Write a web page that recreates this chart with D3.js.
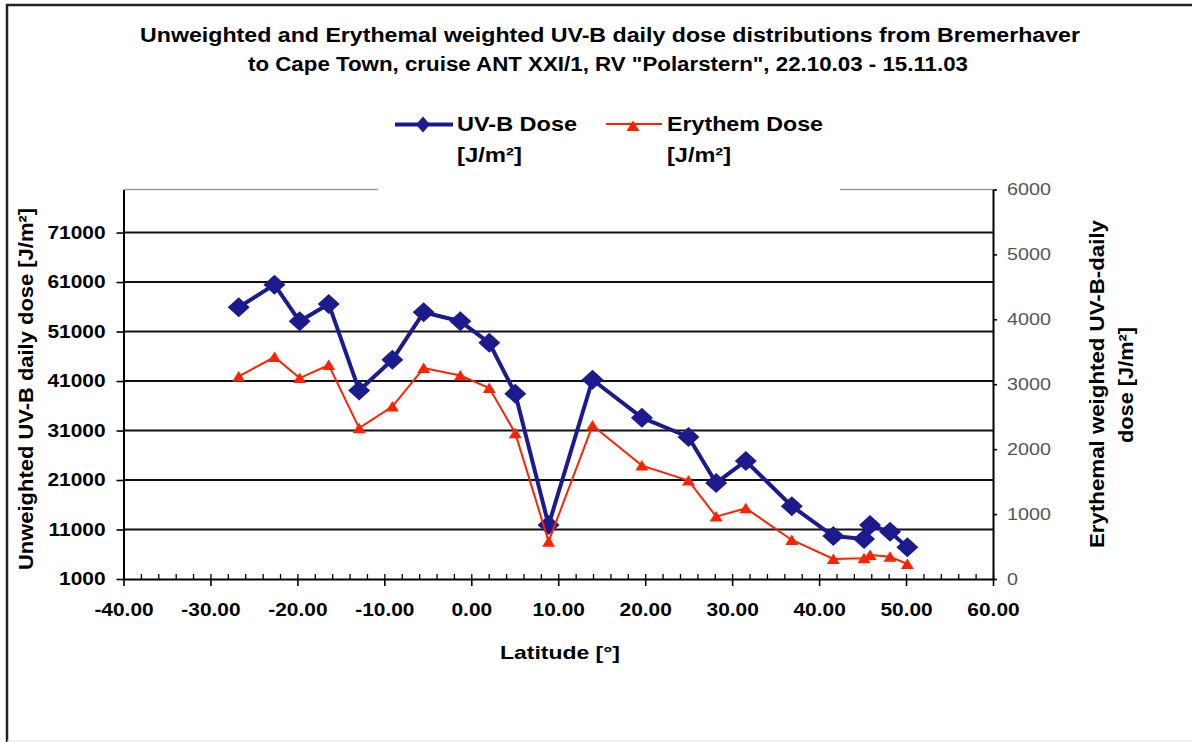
<!DOCTYPE html>
<html>
<head>
<meta charset="utf-8">
<script src="https://cdnjs.cloudflare.com/ajax/libs/d3/7.8.5/d3.min.js"></script>
<style>
  body { margin: 0; background: #fff; }
  svg { display: block; }
  text { font-family: "Liberation Sans", Arial, sans-serif; }
</style>
</head>
<body>
<script>
// latitude of each daily measurement
var latitude = [-26.75, -22.64, -19.74, -16.4, -12.9, -9.08, -5.48, -1.26, 2.07, 5.06, 8.89,
                13.94, 19.62, 24.98, 28.16, 31.57, 36.86, 41.64, 45.17, 45.86, 48.16, 50.15]
// unweighted UV-B daily dose [J/m2]
var uvbDose = [55900, 60470, 53070, 56580, 39100, 45290, 54890, 53070, 48720, 38440, 11890,
               41260, 33600, 29690, 20410, 24850, 15720, 9670, 9060, 11890, 10540, 7390]
// erythemal weighted daily dose [J/m2]
var erythemDose = [3120, 3419, 3095, 3295, 2324, 2657, 3249, 3135, 2941, 2247, 575,
                   2364, 1747, 1516, 961, 1090, 601, 308, 319, 370, 344, 231]

var xTicks = [-40, -30, -20, -10, 0, 10, 20, 30, 40, 50, 60]
var leftTicks = [1000, 11000, 21000, 31000, 41000, 51000, 61000, 71000]
var rightTicks = [0, 1000, 2000, 3000, 4000, 5000, 6000]

var W = 1192, H = 742
var blue = "#1b1b8e", red = "#ff2200"

var svg = d3.select("body").append("svg").attr("width", W).attr("height", H)
svg.append("rect").attr("width", W).attr("height", H).attr("fill", "#fff")

var x = d3.scaleLinear().domain([-40, 60]).range([123.5, 993])
var yL = d3.scaleLinear().domain([1000, 79700]).range([579, 189.5])
var yR = d3.scaleLinear().domain([0, 6000]).range([579, 189.5])

// stretch text horizontally like the original picture
var stretch = function(sel, f){
  sel.each(function(){
    var w = this.getComputedTextLength()
    d3.select(this).attr("textLength", w * f).attr("lengthAdjust", "spacingAndGlyphs")
  })
}

// outer frame
svg.append("path").attr("d", "M7,742V5H1192").attr("fill", "none").attr("stroke", "#222").attr("stroke-width", 2.5)
svg.append("line").attr("x1", 7).attr("x2", W).attr("y1", 741).attr("y2", 741).attr("stroke", "#e4e4e4")

// top border of plot area
svg.append("line").attr("x1", x(-40)).attr("x2", x(60)).attr("y1", yL.range()[1]).attr("y2", yL.range()[1])
  .attr("stroke", "#9a9a9a").attr("stroke-width", 1.5)

// grid lines
svg.append("g").selectAll("line")
  .data(leftTicks.slice(1))
  .enter()
  .append("line")
  .attr("x1", x(-40)).attr("x2", x(60))
  .attr("y1", function(d){ return yL(d) }).attr("y2", function(d){ return yL(d) })
  .attr("stroke", "#111").attr("stroke-width", 1.9)

// left axis
var gl = svg.append("g").attr("transform", "translate(" + x(-40) + ",0)")
  .call(d3.axisLeft(yL).tickValues(leftTicks).tickSize(7).tickSizeOuter(0).tickPadding(11).tickFormat(function(d){ return d }))
gl.select(".domain").attr("stroke", "#000").attr("stroke-width", 2)
gl.selectAll(".tick line").attr("stroke", "#000").attr("stroke-width", 1.6)
gl.selectAll("text").attr("font-size", 18).attr("font-weight", "bold").attr("fill", "#000")
  .attr("font-family", "'Liberation Sans', Arial, sans-serif")
stretch(gl.selectAll("text"), 1.16)

// right axis
var gr = svg.append("g").attr("transform", "translate(" + x(60) + ",0)")
  .call(d3.axisRight(yR).tickValues(rightTicks).tickSize(4).tickSizeOuter(0).tickPadding(10).tickFormat(function(d){ return d }))
gr.select(".domain").attr("stroke", "#000").attr("stroke-width", 2)
gr.selectAll(".tick line").attr("stroke", "#000").attr("stroke-width", 1.6)
gr.selectAll("text").attr("font-size", 17).attr("fill", "#555")
  .attr("font-family", "'Liberation Sans', Arial, sans-serif")
stretch(gr.selectAll("text"), 1.16)

// bottom axis: minor ticks inside, major ticks crossing
var gm = svg.append("g").attr("transform", "translate(0," + yL(1000) + ")")
  .call(d3.axisBottom(x).tickValues(d3.range(-40, 61, 2)).tickSize(-5).tickSizeOuter(0).tickFormat(""))
gm.select(".domain").attr("stroke", "#000").attr("stroke-width", 2)
gm.selectAll(".tick line").attr("stroke", "#000").attr("stroke-width", 1.3)

var gb = svg.append("g").attr("transform", "translate(0," + yL(1000) + ")")
  .call(d3.axisBottom(x).tickValues(xTicks).tickSize(7).tickSizeOuter(0).tickPadding(17).tickFormat(function(d){ return d.toFixed(2) }))
gb.select(".domain").remove()
gb.selectAll(".tick line").attr("stroke", "#000").attr("stroke-width", 1.6)
gb.selectAll("text").attr("font-size", 19).attr("font-weight", "bold").attr("fill", "#000")
  .attr("font-family", "'Liberation Sans', Arial, sans-serif")
stretch(gb.selectAll("text"), 1.1)

// series lines
var lineL = d3.line().x(function(d, i){ return x(latitude[i]) }).y(function(d){ return yL(d) })
var lineR = d3.line().x(function(d, i){ return x(latitude[i]) }).y(function(d){ return yR(d) })

var diamond = "M0,-10L11,0L0,10L-11,0Z"
var triangle = "M0,-5.5L6.5,5L-6.5,5Z"

svg.append("path").datum(uvbDose).attr("d", lineL)
  .attr("fill", "none").attr("stroke", blue).attr("stroke-width", 4).attr("stroke-linejoin", "round")
svg.append("g").selectAll("path")
  .data(uvbDose)
  .enter()
  .append("path")
  .attr("d", diamond)
  .attr("transform", function(d, i){ return "translate(" + x(latitude[i]) + "," + yL(d) + ")" })
  .attr("fill", blue)

svg.append("path").datum(erythemDose).attr("d", lineR)
  .attr("fill", "none").attr("stroke", red).attr("stroke-width", 2)
svg.append("g").selectAll("path")
  .data(erythemDose)
  .enter()
  .append("path")
  .attr("d", triangle)
  .attr("transform", function(d, i){ return "translate(" + x(latitude[i]) + "," + yR(d) + ")" })
  .attr("fill", red)

// legend
svg.append("rect").attr("x", 378).attr("y", 92).attr("width", 462).attr("height", 101).attr("fill", "#fff")
var lg = svg.append("g")
lg.append("line").attr("x1", 395).attr("x2", 453).attr("y1", 124.5).attr("y2", 124.5).attr("stroke", blue).attr("stroke-width", 4)
lg.append("path").attr("d", "M0,-8L7,0L0,8L-7,0Z").attr("transform", "translate(423,124.5)").attr("fill", blue)
lg.append("line").attr("x1", 606).attr("x2", 662).attr("y1", 124).attr("y2", 124).attr("stroke", red).attr("stroke-width", 2)
lg.append("path").attr("d", triangle).attr("transform", "translate(633,126)").attr("fill", red)

var legendText = [
  {t: "UV-B Dose", x: 457, y: 131, w: 120},
  {t: "[J/m\u00b2]", x: 457, y: 162, w: 65},
  {t: "Erythem Dose", x: 667, y: 131, w: 156},
  {t: "[J/m\u00b2]", x: 667, y: 162, w: 64}
]
lg.selectAll("text")
  .data(legendText)
  .enter()
  .append("text")
  .attr("x", function(d){ return d.x }).attr("y", function(d){ return d.y })
  .attr("font-size", 21).attr("font-weight", "bold").attr("fill", "#000")
  .attr("textLength", function(d){ return d.w }).attr("lengthAdjust", "spacingAndGlyphs")
  .text(function(d){ return d.t })

// titles
svg.append("text").attr("x", 610).attr("y", 42).attr("text-anchor", "middle")
  .attr("font-size", 19.5).attr("font-weight", "bold")
  .attr("textLength", 940).attr("lengthAdjust", "spacingAndGlyphs")
  .text("Unweighted and Erythemal weighted UV-B daily dose distributions from Bremerhaver")
svg.append("text").attr("x", 608).attr("y", 71).attr("text-anchor", "middle")
  .attr("font-size", 19.5).attr("font-weight", "bold")
  .attr("textLength", 720).attr("lengthAdjust", "spacingAndGlyphs")
  .text("to Cape Town, cruise ANT XXI/1, RV \"Polarstern\", 22.10.03 - 15.11.03")

svg.append("text").attr("x", 560).attr("y", 659).attr("text-anchor", "middle")
  .attr("font-size", 19).attr("font-weight", "bold")
  .attr("textLength", 120).attr("lengthAdjust", "spacingAndGlyphs")
  .text("Latitude [\u00b0]")

svg.append("text").attr("transform", "translate(33,389) scale(1.16,1) rotate(-90)")
  .attr("text-anchor", "middle").attr("font-size", 18).attr("font-weight", "bold")
  .attr("textLength", 362).attr("lengthAdjust", "spacingAndGlyphs")
  .text("Unweighted UV-B daily dose [J/m\u00b2]")

svg.append("text").attr("transform", "translate(1104,384) scale(1.16,1) rotate(-90)")
  .attr("text-anchor", "middle").attr("font-size", 18).attr("font-weight", "bold")
  .attr("textLength", 328).attr("lengthAdjust", "spacingAndGlyphs")
  .text("Erythemal weighted UV-B-daily")
svg.append("text").attr("transform", "translate(1133,385) scale(1.16,1) rotate(-90)")
  .attr("text-anchor", "middle").attr("font-size", 18).attr("font-weight", "bold")
  .attr("textLength", 116).attr("lengthAdjust", "spacingAndGlyphs")
  .text("dose [J/m\u00b2]")
</script>
</body>
</html>
